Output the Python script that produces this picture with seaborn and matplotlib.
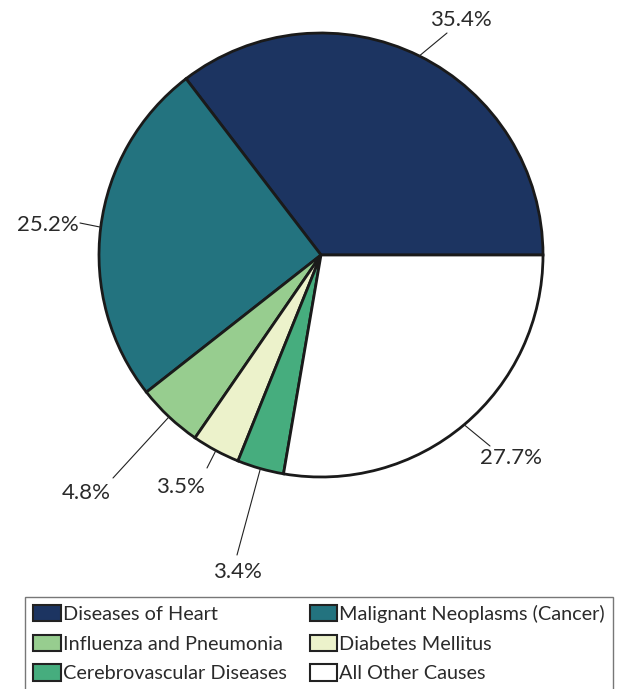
import numpy as np
import matplotlib
matplotlib.use("Agg")
import matplotlib.pyplot as plt
import seaborn as sns

causes = ["Diseases of Heart", "Malignant Neoplasms (Cancer)", "Influenza and Pneumonia",
          "Diabetes Mellitus", "Cerebrovascular Diseases", "All Other Causes"]
shares = [35.4, 25.2, 4.8, 3.5, 3.4, 27.7]
colors = ["#1c3461", "#23737f", "#97cd8f", "#ecf2cb", "#46ad7e", "#ffffff"]
pct_labels = ["35.4%", "25.2%", "4.8%", "3.5%", "3.4%", "27.7%"]

sns.set_style("white")
plt.rcParams['font.family'] = ['Lato', 'DejaVu Sans']

W, H = 619, 689
fig = plt.figure(figsize=(W / 100, H / 100), dpi=100)
ax = fig.add_axes([0, 0, 1, 1])

# pie in pixel-like coordinates (y up)
cx, cy, r = 321, H - 255, 222
wedges, _ = ax.pie(shares, colors=colors, startangle=0, counterclock=True,
                   center=(cx, cy), radius=r, frame=False,
                   wedgeprops=dict(edgecolor="#1a1a1a", linewidth=2.0))
ax.set_xlim(0, W)
ax.set_ylim(0, H)
ax.set_aspect("equal")
ax.axis("off")

# label placement: (line end x, line end y, text x, text y, ha) in pixels from top-left
label_pos = [
    (447, 33, 430, 20, "left"),
    (80, 223, 79, 225, "right"),
    (113, 478, 86, 493, "center"),
    (207, 468, 180, 487, "center"),
    (237, 555, 237, 572, "center"),
    (490, 446, 511, 458, "center"),
]

for w, lab, (lx, ly, tx, ty, ha) in zip(wedges, pct_labels, label_pos):
    ang = np.deg2rad((w.theta1 + w.theta2) / 2)
    ex, ey = cx + r * np.cos(ang), cy + r * np.sin(ang)
    ax.plot([ex, lx], [ey, H - ly], color="#222222", lw=0.8)
    ax.text(tx, H - ty, lab, ha=ha, va="center", fontsize=16, color="#2a2a2a")

# legend fills row by row in the reference, matplotlib fills by column
order = [0, 2, 4, 1, 3, 5]
handles = [plt.Rectangle((0, 0), 1, 1, facecolor=colors[i], edgecolor="#222222", linewidth=1.5)
           for i in order]
leg = fig.legend(handles, [causes[i] for i in order], ncol=2, loc="upper left",
                 bbox_to_anchor=(25 / W, 1 - 597 / H, (613 - 25) / W, 0.0), mode="expand",
                 frameon=True, fancybox=False,
                 fontsize=14.3, handlelength=1.4, handleheight=0.9, handletextpad=0.1,
                 columnspacing=0.35, labelspacing=0.58, borderpad=0.4, borderaxespad=0)
leg.get_frame().set_edgecolor("#555555")
leg.get_frame().set_linewidth(1.0)
for t in leg.get_texts():
    t.set_color("#2a2a2a")

fig.savefig("out.png", dpi=100)
